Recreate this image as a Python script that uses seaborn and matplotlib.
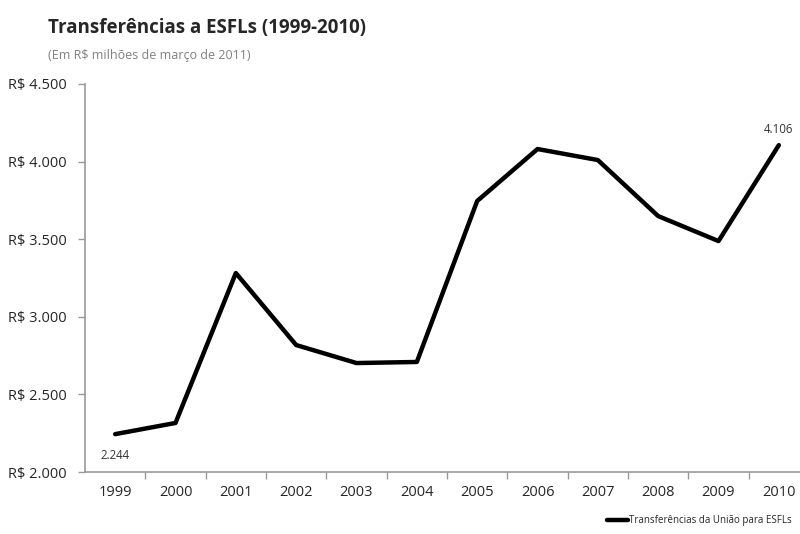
import pandas as pd
import matplotlib.pyplot as plt
import seaborn as sns

anos = ['1999', '2000', '2001', '2002', '2003', '2004',
        '2005', '2006', '2007', '2008', '2009', '2010']
valores = [2244, 2316, 3282, 2818, 2702, 2709, 3746, 4081, 4010, 3649, 3488, 4106]
y_ticks = [2000, 2500, 3000, 3500, 4000, 4500]
serie = 'Transferências da União para ESFLs'

df = pd.DataFrame({'ano': anos, 'valor': valores})
df['x'] = range(len(anos))

sns.set_style('white')
plt.rcParams['font.family'] = ['Open Sans', 'DejaVu Sans']

fig = plt.figure(figsize=(8, 5.34), dpi=100)
ax = fig.add_axes([0.10625, 0.1161, 0.905, 0.7266])

sns.lineplot(data=df, x='x', y='valor', color='black', linewidth=3.2,
             ax=ax, label=serie, legend=False)

ax.set_xlim(-0.5, len(anos) - 0.5)
ax.set_ylim(y_ticks[0], y_ticks[-1])

# ticks do eixo x entre as categorias, rótulos no centro
ax.set_xticks([i + 0.5 for i in range(len(anos) - 1)])
ax.set_xticklabels([])
ax.set_xticks(list(df['x']), minor=True)
ax.set_xticklabels(anos, minor=True, fontsize=10.5)
ax.tick_params(axis='x', which='major', length=5, width=1, color='#999999', direction='out', bottom=True)
ax.tick_params(axis='x', which='minor', length=0, pad=9)

ax.set_yticks(y_ticks)
ax.set_yticklabels(['R$ ' + f'{v:,}'.replace(',', '.') for v in y_ticks], fontsize=10.5)
ax.tick_params(axis='y', length=5, width=1, color='#999999', direction='out', left=True, pad=8)

for s in ['top', 'right']:
    ax.spines[s].set_visible(False)
for s in ['left', 'bottom']:
    ax.spines[s].set_color('#999999')
    ax.spines[s].set_linewidth(1.2)

ax.set_xlabel('')
ax.set_ylabel('')

# rótulos do primeiro e último ponto
ax.annotate(f'{valores[0]:,}'.replace(',', '.'), (0, valores[0]), xytext=(0, -18),
            textcoords='offset points', ha='center', fontsize=8.3, color='#333333')
ax.annotate(f'{valores[-1]:,}'.replace(',', '.'), (len(anos) - 1, valores[-1]), xytext=(0, 9),
            textcoords='offset points', ha='center', fontsize=8.3, color='#333333')

handles, labels = ax.get_legend_handles_labels()
fig.legend(handles, labels, loc='center right', bbox_to_anchor=(792 / 800, 1 - 521 / 534),
           frameon=False, fontsize=7, handlelength=2.2, handletextpad=0.1, borderaxespad=0,
           borderpad=0)

fig.text(48 / 800, 1 - 33 / 534, 'Transferências a ESFLs (1999-2010)', fontsize=13.5,
         fontweight='bold', ha='left', va='baseline')
fig.text(48 / 800, 1 - 59 / 534, '(Em R$ milhões de março de 2011)', fontsize=9,
         color='#808080', ha='left', va='baseline')

fig.savefig('out.png', dpi=100)
